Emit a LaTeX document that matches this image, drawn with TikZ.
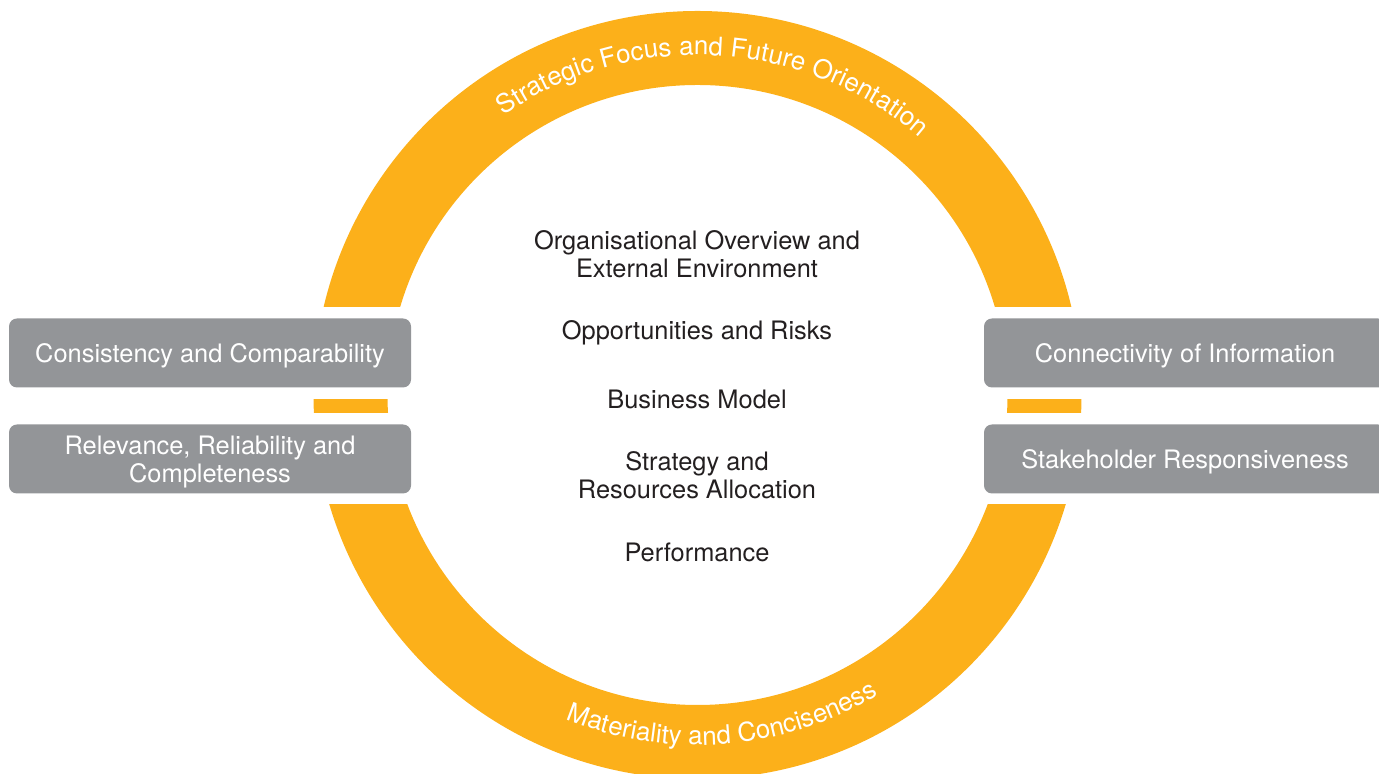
\documentclass[tikz,border=0pt]{standalone}
\usepackage{fontspec}
\setmainfont{TeX Gyre Heros}
\usetikzlibrary{decorations.text,calc}
\definecolor{ringorange}{RGB}{252,176,26}
\definecolor{boxgray}{RGB}{147,149,152}
\definecolor{textblack}{RGB}{35,31,32}
\begin{document}
\begin{tikzpicture}[x=0.5pt,y=0.5pt,
  sidebox/.style={fill=boxgray, rounded corners=4pt, minimum width=201pt, minimum height=34.5pt,
    text=white, font=\fontsize{12.7}{14}\selectfont, align=center, inner sep=0pt, text depth=0pt},
  centertext/.style={text=textblack, font=\fontsize{12.7}{14}\selectfont, align=center, inner sep=0pt, text depth=0pt},
  gapband/.style={fill=white}]
\useasboundingbox (0,0) rectangle (1379,774);
\clip (0,0) rectangle (1379,774);
\coordinate (c) at (697.5,379);
% ring
\fill[ringorange, even odd rule] (c) circle[radius=384] (c) circle[radius=310];
% gaps in the ring
\fill[gapband] (290,375) rectangle (425,467);
\fill[gapband] (290,270) rectangle (425,361);
\fill[gapband] (970,375) rectangle (1100,467);
\fill[gapband] (970,270) rectangle (1100,361);
% side boxes
\node[sidebox] (cc)  at (210,421)  {Consistency and Comparability};
\node[sidebox] (rrc) at (210,315)  {Relevance, Reliability and\\Completeness};
\node[sidebox] (ci)  at (1185,421) {Connectivity of Information};
\node[sidebox] (sr)  at (1185,315) {Stakeholder Responsiveness};
% centre texts
\node[centertext] (org)  at (697,520) {Organisational Overview and\\External Environment};
\node[centertext] (opp)  at (697,444) {Opportunities and Risks};
\node[centertext] (bm)   at (697,375) {Business Model};
\node[centertext] (sra)  at (697,299) {Strategy and\\Resources Allocation};
\node[centertext] (perf) at (697,222) {Performance};
% curved texts
\path[decorate, decoration={text along path, text align=center,
  text={|\fontsize{13}{15}\selectfont\color{white}|Strategic Focus and Future Orientation}}]
  ($(c)+(167:340)$) arc[start angle=167, end angle=7, radius=340];
\path[decorate, decoration={text along path, text align=center,
  text={|\fontsize{13}{15}\selectfont\color{white}|Materiality and Conciseness}}]
  ($(c)+(-145:350)$) arc[start angle=-145, end angle=-26, radius=350];
\end{tikzpicture}
\end{document}
